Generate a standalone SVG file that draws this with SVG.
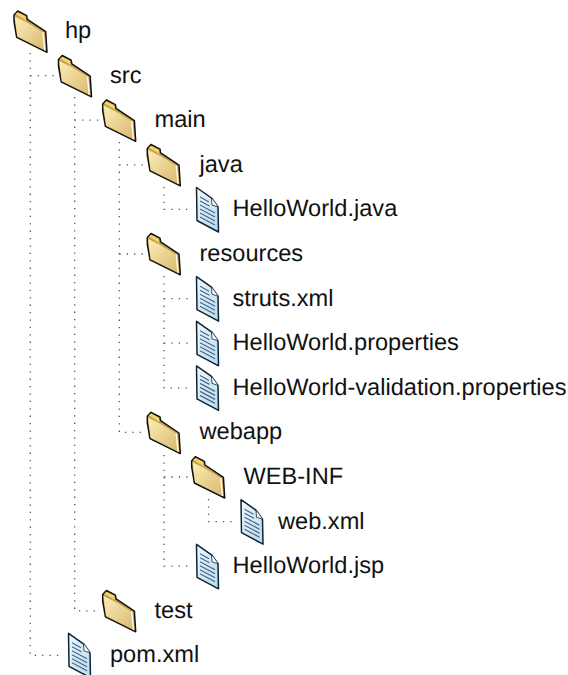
<svg xmlns="http://www.w3.org/2000/svg" width="568" height="675" viewBox="0 0 568 675">
<style>
text{font-family:"Liberation Sans",Arial,sans-serif;font-size:23.6px;fill:#111;text-rendering:geometricPrecision}
.d{fill:none;stroke:#555;stroke-width:1.3;stroke-dasharray:1.300 6.100}
.o{stroke:#111;stroke-width:1.500;stroke-linejoin:round}
</style>
<defs>
<linearGradient id="fg" x1="0" y1="0" x2="1" y2="1"><stop offset="0" stop-color="#fbeeb8"/><stop offset="1" stop-color="#d9b86e"/></linearGradient>
<linearGradient id="dg" x1="0" y1="0" x2="1" y2="1"><stop offset="0" stop-color="#f0f9fd"/><stop offset="1" stop-color="#b5dcec"/></linearGradient>
<symbol id="folder" overflow="visible">
<path class="o" d="M1 5.500 L4.700 1.500 L13.700 6.200 L14.300 9.800 L32.700 22.200 L34 42.800 L3.700 27.800 L1 12 Z" fill="#c9a34e"/>
<path d="M2.500 4.500 L5 3 L12.500 7 L13 11 L10 9 Z" fill="#f3d66a"/>
<path d="M1.800 7 L14 13 L30 22.800 L31.800 40.800 L4.300 27 Z" fill="url(#fg)"/>
<path d="M30 22.800 L31.800 40.800" stroke="#fff" stroke-width="1.400" fill="none"/>
</symbol>
<symbol id="file" overflow="visible">
<path class="o" d="M0.500 0.500 L15.500 11 L22 20 L22.500 45 L1 33.500 Z" fill="url(#dg)" style="stroke:#123"/>
<path d="M15.500 11 L16 18 L22 20" fill="#fff" stroke="#123" stroke-width=".8"/>
<path d="M4 10 L13 15 M4 14 L13.500 19 M4 18 L19 26 M4 22 L19 30 M4 26 L19 34 M4 30 L19 38" stroke="#47668c" stroke-width="1.200" fill="none"/>
</symbol>
</defs>
<g id="connectors" class="d">
<path d="M30.300 53 V655.400 H62 M30.300 75.600 H56"/>
<path d="M74.700 97 V610.800 H100 M74.700 120.200 H100"/>
<path d="M119.300 142 V432.400 H145 M119.300 164.800 H145 M119.300 254 H145"/>
<path d="M164 187 V209.400 H189"/>
<path d="M164 276 V387.800 H189 M164 298.600 H189 M164 343.200 H189"/>
<path d="M164 455 V566.200 H189 M164 477 H189"/>
<path d="M208.500 499 V521.600 H233"/>
</g>
<g id="hp"><use href="#folder" x="13" y="9.500"/><text x="65" y="38">hp</text></g>
<g id="src"><use href="#folder" x="57.500" y="54"/><text x="110" y="82.600">src</text></g>
<g id="main"><use href="#folder" x="101.700" y="98.500"/><text x="154.500" y="127.200">main</text></g>
<g id="java"><use href="#folder" x="146.300" y="143"/><text x="199.500" y="171.800">java</text></g>
<g id="helloworld-java"><use href="#file" x="196" y="187"/><text x="232.500" y="216.400">HelloWorld.java</text></g>
<g id="resources"><use href="#folder" x="146.300" y="232"/><text x="199.500" y="261">resources</text></g>
<g id="struts"><use href="#file" x="196" y="276.200"/><text x="232.500" y="305.600">struts.xml</text></g>
<g id="helloworld-properties"><use href="#file" x="196" y="320.800"/><text x="232.500" y="350.200">HelloWorld.properties</text></g>
<g id="validation"><use href="#file" x="196" y="365.400"/><text x="232.500" y="394.800">HelloWorld-validation.properties</text></g>
<g id="webapp"><use href="#folder" x="146.300" y="410.800"/><text x="199.500" y="439.400">webapp</text></g>
<g id="web-inf"><use href="#folder" x="190.700" y="455.200"/><text x="243.500" y="484">WEB-INF</text></g>
<g id="web-xml"><use href="#file" x="240.500" y="499.200"/><text x="278" y="528.600">web.xml</text></g>
<g id="helloworld-jsp"><use href="#file" x="196" y="543.800"/><text x="232.500" y="573">HelloWorld.jsp</text></g>
<g id="test"><use href="#folder" x="101.700" y="589"/><text x="154.500" y="617.500">test</text></g>
<g id="pom"><use href="#file" x="68" y="632.800"/><text x="110" y="662">pom.xml</text></g>
</svg>
